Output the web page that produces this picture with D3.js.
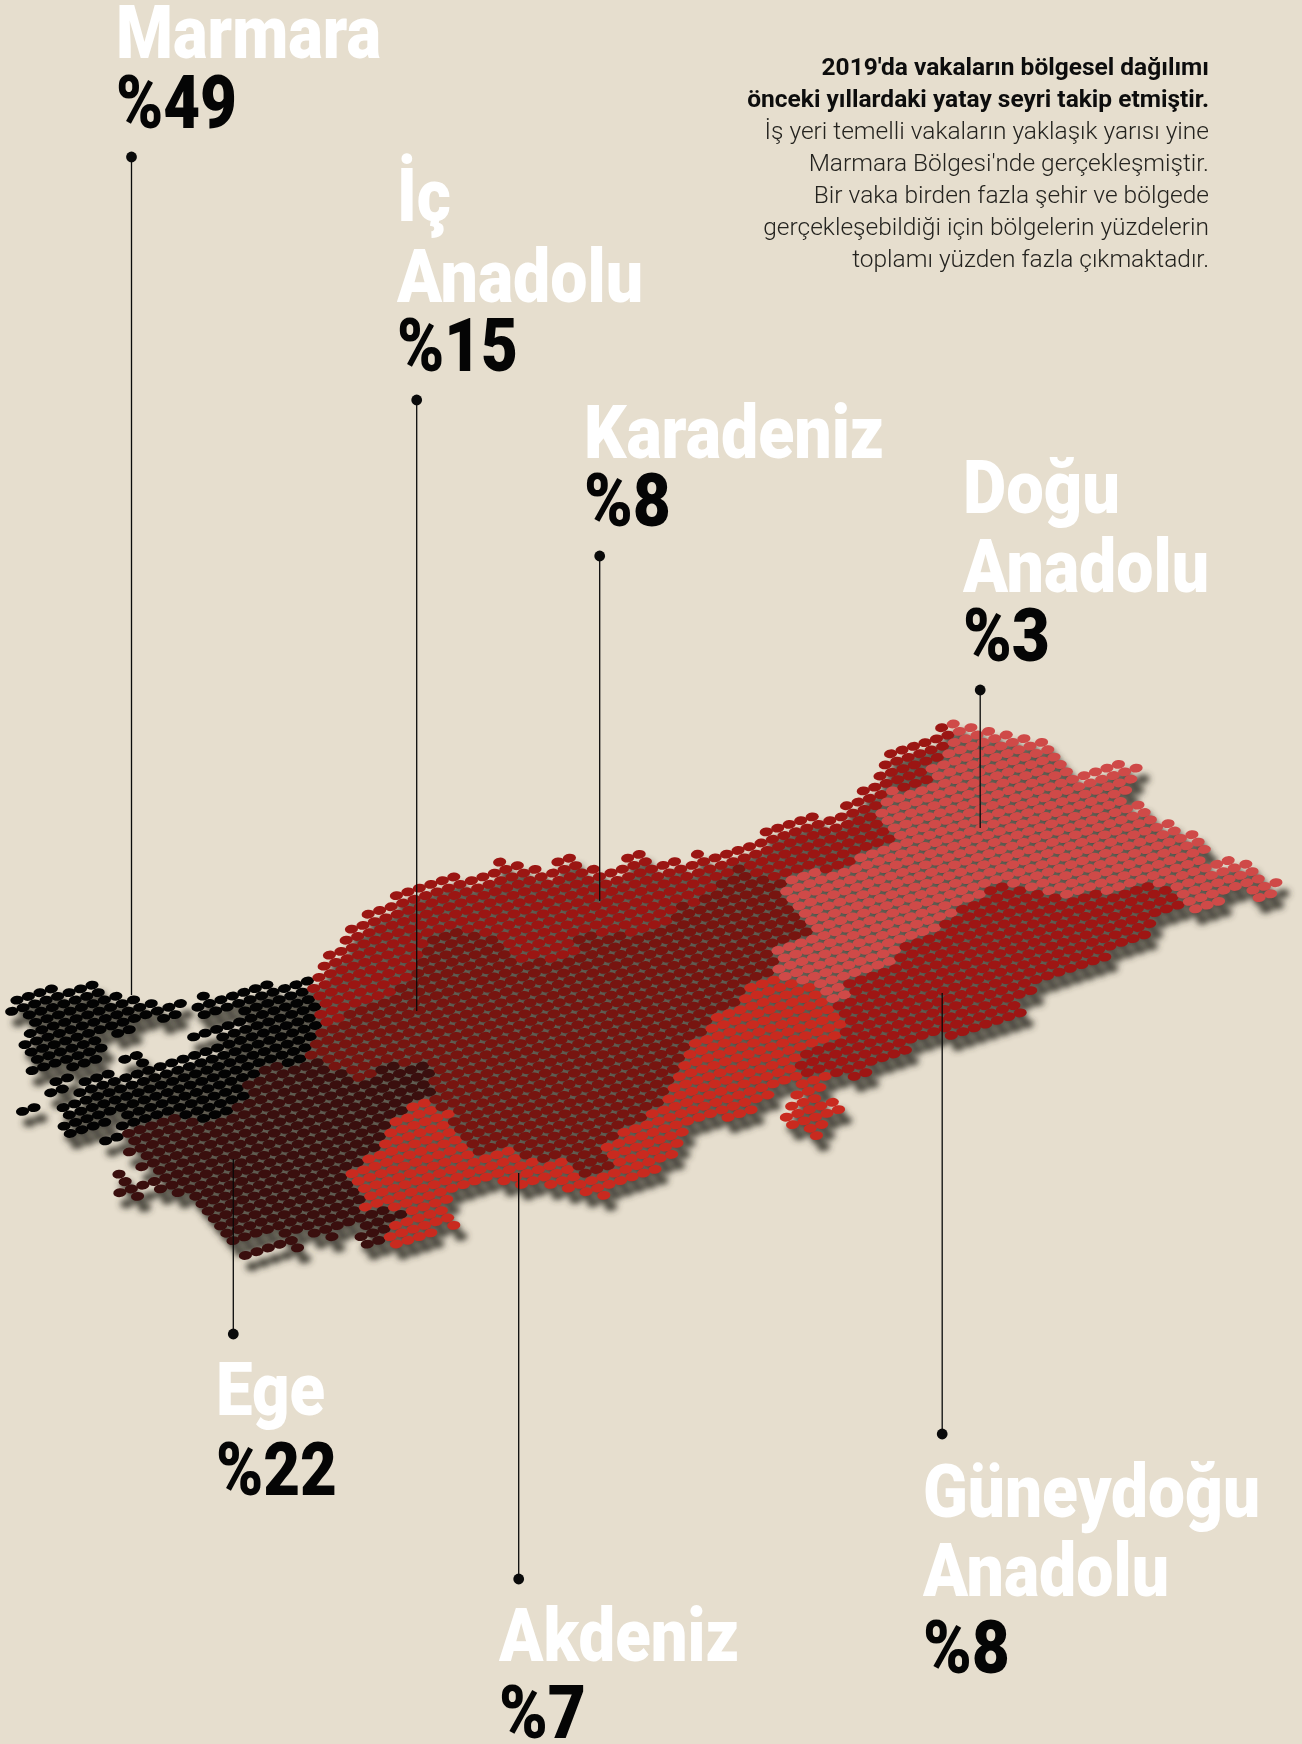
<!DOCTYPE html>
<html><head><meta charset="utf-8">
<script src="https://cdn.jsdelivr.net/npm/d3@7"></script>
<style>html,body{margin:0;background:#e6dece}svg{display:block}</style></head>
<body><div id="chart"></div>
<script>
// map cells, one string per grid row: "row:firstColumn" then runs, _n is a gap
var gridRows = [
"-1:1 M4","0:0 M8","1:1 M7 _25 K6 _3 K1","2:1 M8 _21 K14 _36 K1 D1","3:0 M10 _18 K17 _1 K2 _27 K6 D2",
"4:-1 M12 _16 K21 _26 K6 D4","5:-1 M14 _1 M1 _10 K24 _2 K2 _20 K6 D6","6:-1 M6 _1 M2 _2 M2 _1 M7 _4 K29 _18 K6 D9",
"7:-2 M7 _8 M10 K10 I3 K19 _1 K1 _5 K5 _2 K4 D1 K3 D10","8:1 M3 _12 M6 K10 I5 K35 D15","9:-1 M2 _4 M2 _4 M11 K9 I7 K33 D16",
"10:-2 M2 _1 M3 _2 M1 _6 M9 K8 I8 K20 I1 K12 D16","11:-5 M2 _3 M21 K7 I10 K18 I3 K12 D16","12:-2 M23 K2 I15 K5 I2 K7 I1 K1 I6 K11 D20",
"13:-2 M22 I20 K3 I4 K4 I10 D3 K3 D25","14:-3 M22 I41 D31","15:-3 M4 _1 M12 E2 M2 I42 D30","16:1 M11 E7 I41 D29",
"17:-1 M2 E5 M6 E7 I41 D30","18:1 E6 M3 E10 I40 D30","19:0 E20 I2 E2 I36 D30","20:1 E25 I30 D35","21:-2 E1 _1 E26 I30 D18 G2 D15",
"22:-2 E1 _2 E24 I30 D16 G6 D15","23:-3 E28 I27 A3 D14 G9 D14","24:-2 E1 _1 E22 A2 I27 A5 D9 G14 D13","25:1 E19 A4 I24 A9 D7 G18 D9",
"26:2 E17 A6 I22 A10 D2 G27 D7","27:2 E16 A6 I21 A12 D2 G28 D7","28:2 E14 A8 I20 A13 G30 D7","29:2 E12 A10 I19 A14 G30 D7",
"30:2 E12 A10 I18 A15 G27 _3 D3 _2 D3","31:2 E12 A10 I17 A15 G27 _9 D2","32:2 E12 A13 I13 A12 G27","33:6 E7 A14 I11 A13 G21",
"34:2 E5 _1 E7 A13 I7 A16 G19","35:6 E1 _2 E1 _2 E4 A4 _4 A6 I3 A15 _2 A3 G7 _3 G7","36:11 E3 A5 _6 A5 I3 A7 _3 A3 _3 A3 _2 G2",
"37:11 E2 A6 _8 A3 I3 A6 _9 A3","38:13 A4 _1 A1 _9 A10 _9 A5","39:29 A7 _11 A5","40:30 A1 _17 A2","41:48 A1"];

var regionCodes = ["M","E","I","K","A","D","G"];
var regionColors = ["#030303","#3a0f0e","#771510","#9b1613","#c92a1f","#cf4a48","#9e1614"];

var regionLabels = [["Marmara"],["İç","Anadolu"],["Karadeniz"],["Doğu","Anadolu"],["Ege"],["Akdeniz"],["Güneydoğu","Anadolu"]];
var regionShares = ["%49","%15","%8","%3","%22","%7","%8"];
var labelX = [116,397,584,963,216,499,923];
var labelBase = [[58,128],[221,302,371],[458,526],[513,592,661],[1415,1495],[1661,1738],[1517,1596,1673]];
var labelWidths = [[265,121],[54,246,121],[300,87],[157,246,87],[109,121],[240,87],[337,246,87]];
var leaderX = [131.5,416.7,599.7,980.2,233.3,518.7,942.2];
var leaderFrom = [157,400,556,690,1334,1579,1434];
var leaderTo = [995,1011,901,828,1159,1173,993];

var introBold = ["2019'da vakaların bölgesel dağılımı","önceki yıllardaki yatay seyri takip etmiştir."];
var introLight = ["İş yeri temelli vakaların yaklaşık yarısı yine","Marmara Bölgesi'nde gerçekleşmiştir.","Bir vaka birden fazla şehir ve bölgede","gerçekleşebildiği için bölgelerin yüzdelerin","toplamı yüzden fazla çıkmaktadır."];

var w = 1302, h = 1744;

// the grid is sheared, each axis moves both x and y
var colX = d3.scaleLinear().domain([0,94]).range([11.7,1089.9]);
var colY = d3.scaleLinear().domain([0,94]).range([1011.3,660.7]);
var rowX = d3.scaleLinear().domain([0,30]).range([0,186]);
var rowY = d3.scaleLinear().domain([0,30]).range([0,222]);
var color = d3.scaleOrdinal().domain(regionCodes).range(regionColors);

var cells = [];
gridRows.forEach(function(line){
  var parts = line.split(" ");
  var head = parts[0].split(":");
  var row = +head[0], col = +head[1];
  parts.slice(1).forEach(function(run){
    var n = +run.slice(1);
    if(run[0] !== "_"){
      for(var i=0;i<n;i++){
        cells.push({row:row,col:col+i,region:run[0]});
      }
    }
    col += n;
  });
});

var svg = d3.select("#chart").append("svg")
    .attr("width",w)
    .attr("height",h)
    .style("background-color","#e6dece");

svg.append("defs").append("filter")
.attr("id","shade")
.attr("x","-5%").attr("y","-5%").attr("width","110%").attr("height","110%")
.append("feGaussianBlur")
.attr("stdDeviation",3);

function drawDots(g,fill){
  g.selectAll("ellipse")
  .data(cells)
  .enter().append("ellipse")
  .attr("rx",6.6)
  .attr("ry",4.4)
  .attr("transform",function(d){
    return "translate("+(colX(d.col)+rowX(d.row))+","+(colY(d.col)+rowY(d.row))+") rotate(-6)";
  })
  .attr("fill",fill);
}

drawDots(svg.append("g").attr("transform","translate(7,11)").attr("filter","url(#shade)"),"#3c3b32");
drawDots(svg.append("g"),function(d){ return color(d.region); });

// leader lines
var leaders = svg.append("g");
leaderX.forEach(function(x,i){
  leaders.append("line")
  .attr("x1",x).attr("x2",x)
  .attr("y1",leaderFrom[i]).attr("y2",leaderTo[i])
  .attr("stroke","#0a0a0a")
  .attr("stroke-width",1.3);
  leaders.append("circle")
  .attr("cx",x).attr("cy",leaderFrom[i])
  .attr("r",5.4)
  .attr("fill","#0a0a0a");
});

// region names and shares
regionLabels.forEach(function(names,i){
  var lines = names.concat(regionShares[i]);
  lines.forEach(function(t,j){
    svg.append("text")
    .attr("x",labelX[i])
    .attr("y",labelBase[i][j])
    .attr("textLength",labelWidths[i][j])
    .attr("lengthAdjust","spacingAndGlyphs")
    .attr("font-family","Roboto")
    .attr("font-weight",900)
    .attr("font-size",75)
    .attr("fill",j === names.length ? "#050505" : "#ffffff")
    .text(t);
  });
});

// intro text
var intro = svg.append("g").attr("text-anchor","end").attr("font-family","Roboto").attr("font-size",24.5);
introBold.concat(introLight).forEach(function(t,i){
  intro.append("text")
  .attr("x",1209)
  .attr("y",75+i*32)
  .attr("font-weight",i < 2 ? 700 : 300)
  .attr("fill",i < 2 ? "#0d0d0d" : "#24231f")
  .text(t);
});
</script></body></html>
